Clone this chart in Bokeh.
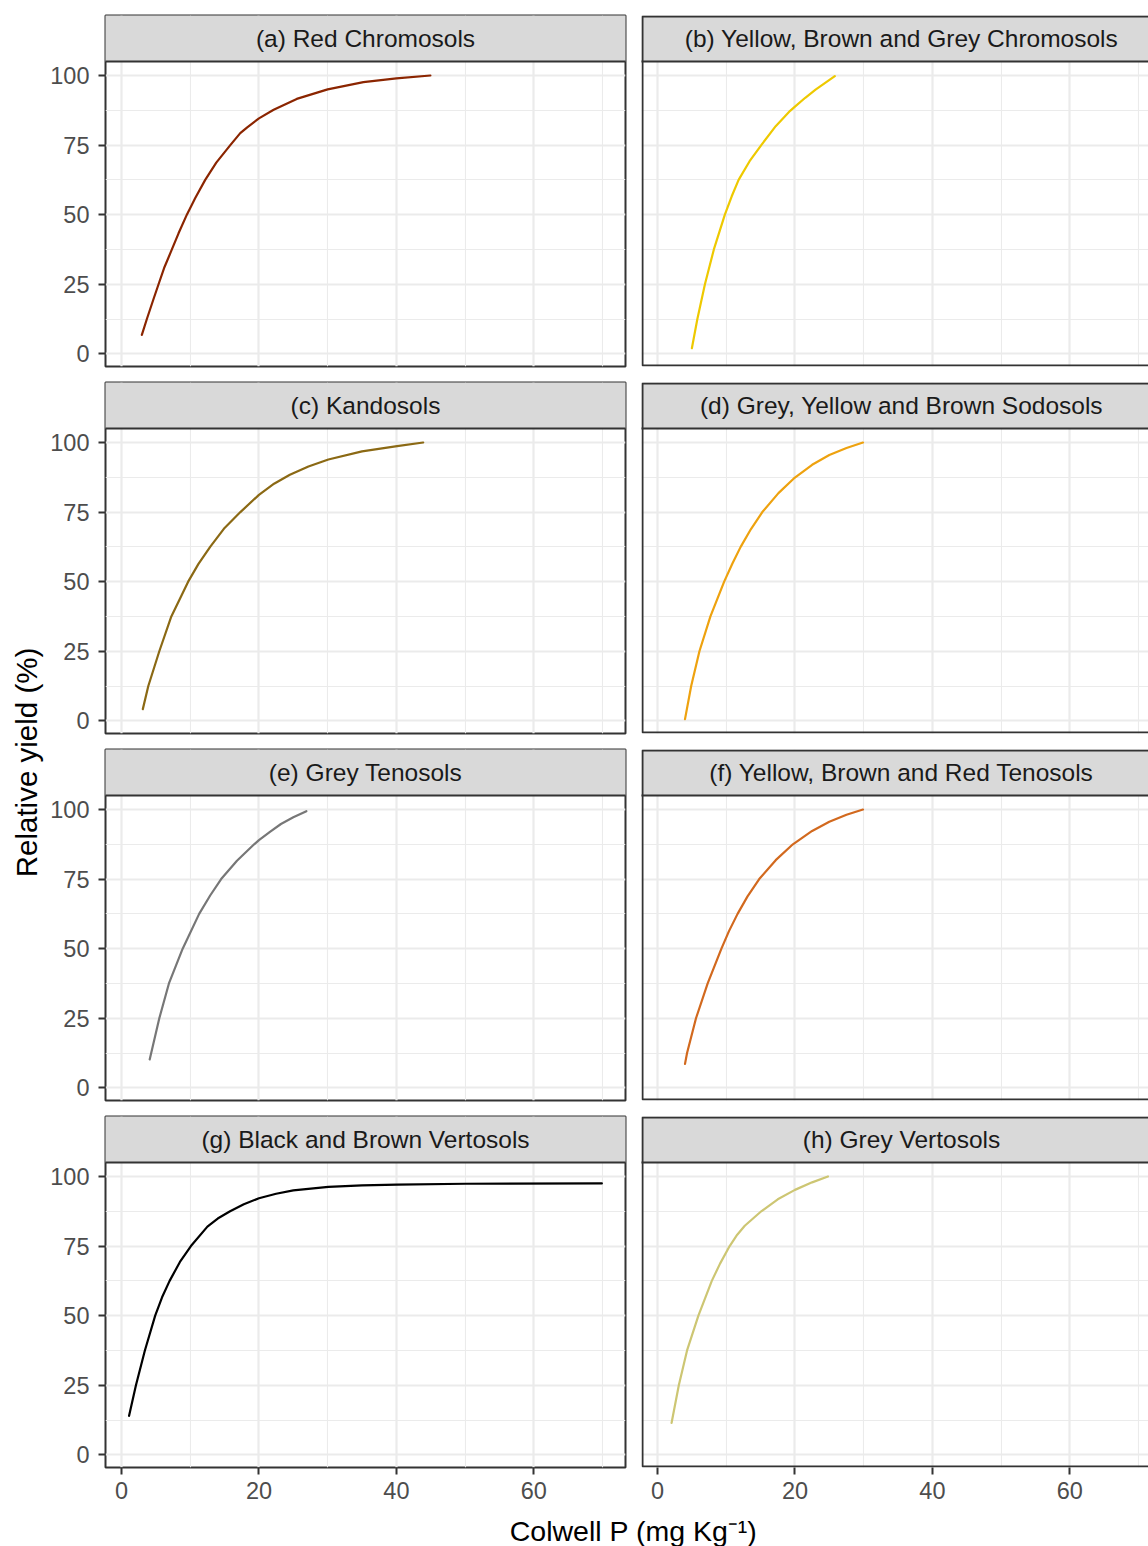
import math
from bokeh.plotting import figure
from bokeh.layouts import row, column
from bokeh.models import Range1d, FixedTicker, BoxAnnotation
from bokeh.core.properties import value
from bokeh.embed import file_html
from bokeh.resources import INLINE

FONT = "Liberation Sans"

# ---------------- data ----------------
panel_titles = [
    "(a) Red Chromosols",
    "(b) Yellow, Brown and Grey Chromosols",
    "(c) Kandosols",
    "(d) Grey, Yellow and Brown Sodosols",
    "(e) Grey Tenosols",
    "(f) Yellow, Brown and Red Tenosols",
    "(g) Black and Brown Vertosols",
    "(h) Grey Vertosols",
]
panel_colors = ["#8B2500", "#EEC900", "#8B6914", "#EEA20F",
                "#777777", "#D2691E", "#000000", "#CDC673"]

x_a = [2.96, 3.69, 4.66, 5.39, 6.26, 7.33, 8.3, 9.51, 10.73, 12.18, 13.79, 15.83, 17.28,
       18.25, 20.0, 22.14, 25.5, 30.0, 35.2, 40.0, 44.95]
y_a = [6.8, 12.5, 19.7, 25.0, 31.2, 37.5, 43.3, 50.0, 56.0, 62.5, 68.7, 75.0, 79.3,
       81.3, 84.6, 87.7, 91.6, 95.0, 97.6, 99.0, 100.0]

x_b = [5.0, 5.8, 6.9, 8.2, 9.8, 10.8, 11.8, 13.4, 15.1, 17.2, 19.3, 20.0, 21.5, 23.0, 25.8]
y_b = [2.0, 12.5, 25.0, 37.5, 50.0, 56.6, 62.5, 69.2, 75.0, 81.8, 87.3, 88.8, 92.0, 94.9, 99.8]

x_c = [3.1, 3.9, 5.5, 7.25, 9.7, 11.2, 12.9, 15.0, 17.3, 20.0, 22.2, 24.5, 27.2, 30.1, 35.0, 40.1, 43.9]
y_c = [4.2, 12.5, 25.0, 37.5, 50.0, 56.4, 62.5, 69.3, 75.0, 81.2, 85.2, 88.4, 91.4, 93.9, 96.8, 98.7, 100.0]

x_d = [4.0, 4.9, 6.1, 7.7, 9.7, 10.9, 12.1, 13.6, 15.25, 17.6, 19.8, 22.5, 25.0, 27.5, 29.9]
y_d = [0.6, 12.5, 25.0, 37.5, 50.0, 56.5, 62.5, 68.9, 75.0, 81.8, 87.0, 92.0, 95.5, 98.0, 100.0]

x_e = [4.1, 5.5, 6.9, 8.9, 11.3, 12.9, 14.5, 16.8, 19.3, 20.0, 21.6, 23.2, 25.0, 26.9]
y_e = [10.2, 25.0, 37.5, 50.0, 62.5, 69.1, 75.0, 81.6, 87.5, 89.0, 92.0, 94.8, 97.2, 99.4]

x_f = [4.0, 4.3, 5.6, 7.3, 9.3, 10.4, 11.65, 13.1, 14.8, 17.2, 19.7, 22.5, 25.0, 27.5, 29.9]
y_f = [8.6, 12.5, 25.0, 37.5, 50.0, 56.3, 62.5, 68.8, 75.0, 81.8, 87.5, 92.3, 95.6, 98.1, 100.0]

x_g = [1.1, 2.1, 3.4, 4.9, 5.9, 7.0, 8.5, 10.1, 12.5, 14.0, 15.8, 17.8, 20.0, 22.5, 25.0,
       30.1, 35.0, 40.1, 50.1, 69.9]
y_g = [14.0, 25.0, 37.5, 50.0, 56.6, 62.5, 69.3, 75.0, 82.0, 84.9, 87.5, 90.0, 92.2, 93.8, 95.0,
       96.3, 96.8, 97.1, 97.4, 97.5]

x_h = [2.05, 3.1, 4.3, 5.95, 7.9, 9.1, 10.5, 11.6, 12.7, 15.1, 17.5, 20.0, 22.5, 24.8]
y_h = [11.5, 25.0, 37.5, 50.0, 62.5, 68.7, 75.0, 79.1, 82.3, 87.5, 91.8, 95.2, 97.9, 100.0]

panel_x = [x_a, x_b, x_c, x_d, x_e, x_f, x_g, x_h]
panel_y = [y_a, y_b, y_c, y_d, y_e, y_f, y_g, y_h]

x_ticks = [0, 20, 40, 60]
x_minor = [10, 30, 50, 70]
y_ticks = [0, 25, 50, 75, 100]
y_minor = [12.5, 37.5, 62.5, 87.5]

x_title = "Colwell P (mg Kg\u207b\u00b9)"
y_title = "Relative yield (%)"

# ---------------- geometry ----------------
PX_X = 6.872          # pixels per x unit
PX_Y = 2.783          # pixels per y unit
X0 = -2.33
Y0 = -4.56
FRAME_H = 351         # panel + strip
PANEL_H = 305
FW_LEFT = 520
FW_RIGHT = 507
Y_TOP = Y0 + FRAME_H / PX_Y
STRIP_BOTTOM = Y0 + PANEL_H / PX_Y
STRIP_MID = (STRIP_BOTTOM + Y_TOP) / 2
X_CENTER = X0 + (FW_LEFT / PX_X) / 2

YLAB_W = 44
TOP_PAD = 15
ROW_GAP = 8
BOTTOM_AXIS = 42
TOTAL_H = 1546

GRID_COL = "#EBEBEB"
DARK = "#333333"


def make_panel(i):
    right_col = (i % 2 == 1)
    left = not right_col
    bottom = (i >= 6)
    fw = FW_RIGHT if right_col else FW_LEFT
    x_end = X0 + fw / PX_X
    p = figure(
        frame_width=fw, frame_height=FRAME_H,
        x_range=Range1d(X0, x_end), y_range=Range1d(Y0, Y_TOP),
        x_axis_location="below" if bottom else None,
        y_axis_location="left" if left else None,
        toolbar_location=None, output_backend="svg",
        min_border_left=(105 - YLAB_W) if left else ROW_GAP,
        min_border_right=0 if right_col else ROW_GAP,
        min_border_top=TOP_PAD if i < 2 else ROW_GAP,
        min_border_bottom=BOTTOM_AXIS if bottom else ROW_GAP,
    )
    p.background_fill_color = "white"
    p.border_fill_color = "white"

    p.xgrid.ticker = FixedTicker(ticks=x_ticks, minor_ticks=x_minor)
    p.ygrid.ticker = FixedTicker(ticks=y_ticks, minor_ticks=y_minor)
    for g in (p.xgrid, p.ygrid):
        g.grid_line_color = GRID_COL
        g.grid_line_width = 2.2
        g.minor_grid_line_color = GRID_COL
        g.minor_grid_line_width = 1.1

    axes = []
    if bottom:
        p.xaxis.ticker = FixedTicker(ticks=x_ticks)
        p.xaxis.major_label_standoff = 7
        axes.append(p.xaxis)
    if left:
        p.yaxis.ticker = FixedTicker(ticks=y_ticks)
        p.yaxis.major_label_standoff = 9
        axes.append(p.yaxis)
    for ax in axes:
        ax.axis_line_color = None
        ax.major_tick_line_color = DARK
        ax.major_tick_line_width = 2
        ax.major_tick_in = 0
        ax.major_tick_out = 7
        ax.minor_tick_line_color = None
        ax.major_label_text_font = FONT
        ax.major_label_text_font_size = "23.5px"
        ax.major_label_text_color = "#4D4D4D"

    p.line(panel_x[i], panel_y[i], line_color=panel_colors[i], line_width=2.2,
           line_join="round", line_cap="round")

    # facet strip
    p.quad(left=[X0 - 5], right=[x_end + 5], bottom=[STRIP_BOTTOM], top=[Y_TOP + 5],
           fill_color="#D9D9D9", line_color=DARK, line_width=2)
    p.text(x=[X_CENTER], y=[STRIP_MID], text=[panel_titles[i]],
           text_font=value(FONT), text_font_size="24.5px", text_color="#1A1A1A",
           text_align="center", text_baseline="middle")

    if right_col:
        # panel border cut by the right edge of the picture: no right side;
        # inset by one pixel so the whole 2px line stays inside the frame
        p.outline_line_color = None
        p.add_layout(BoxAnnotation(left=X0 + 1.0 / PX_X, right=X0 + 200,
                                   bottom=Y0 + 1.0 / PX_Y, top=Y_TOP - 1.0 / PX_Y,
                                   fill_color=None, fill_alpha=0,
                                   line_color=DARK, line_alpha=1.0, line_width=2,
                                   level="overlay"))
    else:
        p.outline_line_color = DARK
        p.outline_line_width = 2
    return p


panels = [make_panel(i) for i in range(8)]
grid_col = column(*[row(panels[2 * r], panels[2 * r + 1]) for r in range(4)])

ROW1_H = TOP_PAD + FRAME_H + ROW_GAP
ROW_H = ROW_GAP + FRAME_H + ROW_GAP
ROW4_H = ROW_GAP + FRAME_H + BOTTOM_AXIS
GRID_H = ROW1_H + 2 * ROW_H + ROW4_H

ylab = figure(width=YLAB_W, height=GRID_H, x_range=Range1d(0, YLAB_W), y_range=Range1d(0, GRID_H),
              x_axis_location=None, y_axis_location=None, toolbar_location=None,
              output_backend="svg", min_border=0)
ylab.outline_line_color = None
ylab.grid.visible = False
ylab.text(x=[25.5], y=[GRID_H - 762], text=[y_title], angle=math.pi / 2,
          text_font=value(FONT), text_font_size="29.5px", text_color="#000000",
          text_align="center", text_baseline="middle")

XLAB_H = TOTAL_H - GRID_H
xlab = figure(width=1148, height=XLAB_H, x_range=Range1d(0, 1148), y_range=Range1d(0, XLAB_H),
              x_axis_location=None, y_axis_location=None, toolbar_location=None,
              output_backend="svg", min_border=0)
xlab.outline_line_color = None
xlab.grid.visible = False
xlab.text(x=[633], y=[TOTAL_H - 1530], text=[x_title],
          text_font=value(FONT), text_font_size="28.5px", text_color="#000000",
          text_align="center", text_baseline="middle")

layout = column(row(ylab, grid_col), xlab)

open("out.html", "w").write(file_html(layout, INLINE))
